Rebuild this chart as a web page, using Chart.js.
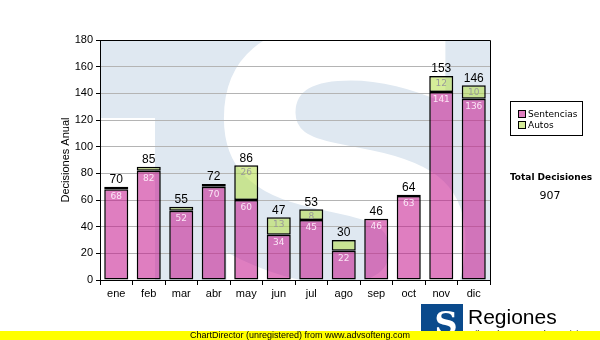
<!DOCTYPE html>
<html>
<head>
<meta charset="utf-8">
<script src="https://cdn.jsdelivr.net/npm/chart.js@4"></script>
<style>
  body { margin: 0; background: #fff; }
  #wrap { width: 600px; height: 340px; position: relative; }
</style>
</head>
<body>
<div id="wrap"><canvas id="decChart" width="600" height="340"></canvas></div>
<script>
// data
const months = ['ene', 'feb', 'mar', 'abr', 'may', 'jun', 'jul', 'ago', 'sep', 'oct', 'nov', 'dic'];
const sentencias = [68, 82, 52, 70, 60, 34, 45, 22, 46, 63, 141, 136];
const autos = [2, 3, 3, 2, 26, 13, 8, 8, 0, 1, 12, 10];
const autosLabels = ['', '', '', '', '26', '13', '8', '', '', '', '12', '10'];
const yTicks = [0, 20, 40, 60, 80, 100, 120, 140, 160, 180];
const totalTitle = 'Total Decisiones';

const totals = sentencias.map(function(v, i) { return v + autos[i]; });
const grandTotal = totals.reduce(function(a, b) { return a + b; }, 0);

// background watermark (light blue block with white S)
const watermark = {
    id: 'watermark',
    beforeDraw: function(chart) {
        const c = chart.ctx;
        const a = chart.chartArea;
        c.save();
        c.beginPath();
        c.rect(a.left, a.top, a.right - a.left, a.bottom - a.top);
        c.clip();
        c.fillStyle = '#dfe8f1';
        c.fillRect(a.left, a.top, a.right - a.left, a.bottom - a.top);
        c.fillStyle = '#ffffff';
        c.fillRect(a.left, a.top + 78, 55, a.bottom - a.top);
        c.font = 'bold 420px "DejaVu Sans"';
        c.textAlign = 'center';
        c.textBaseline = 'alphabetic';
        c.fillText('S', 345, 335);
        c.restore();
    }
};

// labels, border, legend and the extra texts
const extras = {
    id: 'extras',
    afterDatasetsDraw: function(chart) {
        const c = chart.ctx;
        const a = chart.chartArea;
        const m0 = chart.getDatasetMeta(0);
        const m1 = chart.getDatasetMeta(1);
        c.save();
        c.textAlign = 'center';
        m0.data.forEach(function(bar, i) {
            c.font = '9px "DejaVu Sans"';
            c.textBaseline = 'top';
            c.fillStyle = '#fbe6f6';
            c.fillText(String(sentencias[i]), bar.x, bar.y + 3);
            const top = m1.data[i];
            if (autosLabels[i]) {
                c.fillStyle = '#9a9a9a';
                c.fillText(autosLabels[i], top.x, top.y + 3);
            }
            c.font = '12px "Liberation Sans"';
            c.textBaseline = 'bottom';
            c.fillStyle = '#000';
            c.fillText(String(totals[i]), top.x, top.y - 1);
        });

        // top and right border of plot
        c.strokeStyle = '#000';
        c.lineWidth = 1;
        c.beginPath();
        c.moveTo(a.left, a.top + 0.5);
        c.lineTo(a.right + 0.5, a.top + 0.5);
        c.lineTo(a.right + 0.5, a.bottom);
        c.stroke();

        // y axis title
        c.save();
        c.translate(66, (a.top + a.bottom) / 2);
        c.rotate(-Math.PI / 2);
        c.font = '11px "Liberation Sans"';
        c.textBaseline = 'middle';
        c.fillText('Decisiones Anual', 0, 0);
        c.restore();

        // legend box
        c.fillStyle = '#fff';
        c.fillRect(510.5, 101.5, 72, 34);
        c.strokeRect(510.5, 101.5, 72, 34);
        const items = [['Sentencias', chart.data.datasets[0].backgroundColor], ['Autos', chart.data.datasets[1].backgroundColor]];
        items.forEach(function(it, k) {
            const y = 110.5 + k * 11;
            c.fillStyle = '#fff';
            c.fillRect(518.5, y, 7, 7);
            c.fillStyle = it[1];
            c.fillRect(518.5, y, 7, 7);
            c.strokeRect(518.5, y, 7, 7);
            c.fillStyle = '#000';
            c.font = '9px "DejaVu Sans"';
            c.textAlign = 'left';
            c.textBaseline = 'middle';
            c.fillText(it[0], 528, y + 4);
        });

        // total
        c.textAlign = 'center';
        c.font = 'bold 9px "DejaVu Sans"';
        c.fillText(totalTitle, 551, 178);
        c.font = '11px "DejaVu Sans"';
        c.fillText(String(grandTotal), 550, 196);

        // logo bottom right
        c.fillStyle = '#0a4a8c';
        c.fillRect(421, 304, 42, 30);
        c.fillStyle = '#fff';
        c.font = 'bold 32px "DejaVu Serif"';
        c.textAlign = 'center';
        c.textBaseline = 'alphabetic';
        c.fillText('S', 446, 334);
        c.fillStyle = '#000';
        c.textAlign = 'left';
        c.font = '21px "Liberation Sans"';
        c.fillText('Regiones', 468, 324);
        c.font = '9px "Liberation Sans"';
        c.fillText('Tribunal Supremo de Justicia', 467, 337);

        // unregistered strip
        c.fillStyle = '#ffff00';
        c.fillRect(0, 331, 600, 9);
        c.fillStyle = '#000';
        c.textAlign = 'center';
        c.font = '9px "Liberation Sans"';
        c.textBaseline = 'middle';
        c.fillText('ChartDirector (unregistered) from www.advsofteng.com', 300, 336);
        c.restore();
    }
};

new Chart(document.getElementById('decChart'), {
    type: 'bar',
    data: {
        labels: months,
        datasets: [{
            label: 'Sentencias',
            data: sentencias,
            backgroundColor: 'rgba(196, 20, 140, 0.55)',
            borderColor: '#000',
            borderWidth: 1.5,
            borderSkipped: false
        }, {
            label: 'Autos',
            data: autos,
            backgroundColor: 'rgba(180, 222, 70, 0.55)',
            borderColor: '#000',
            borderWidth: 1.5,
            borderSkipped: false
        }]
    },
    options: {
        responsive: false,
        animation: false,
        layout: { padding: { left: 0, top: 40, right: 110, bottom: 0 } },
        plugins: { legend: { display: false }, tooltip: { enabled: false } },
        datasets: { bar: { barPercentage: 0.74, categoryPercentage: 1 } },
        scales: {
            x: {
                stacked: true,
                afterFit: function(s) { s.height = 60; },
                grid: { drawOnChartArea: false, drawTicks: true, tickLength: 5, tickColor: '#000' },
                border: { color: '#000', width: 1 },
                ticks: { color: '#000', padding: 2, font: { family: 'Liberation Sans', size: 11 } }
            },
            y: {
                stacked: true,
                min: 0,
                max: 180,
                afterFit: function(s) { s.width = 100; },
                afterBuildTicks: function(s) { s.ticks = yTicks.map(function(v) { return { value: v }; }); },
                grid: { color: '#b4b4b4', tickLength: 4, tickColor: '#000' },
                border: { color: '#000', width: 1 },
                ticks: { color: '#000', padding: 3, font: { family: 'Liberation Sans', size: 11 } }
            }
        }
    },
    plugins: [watermark, extras]
});
</script>
</body>
</html>
